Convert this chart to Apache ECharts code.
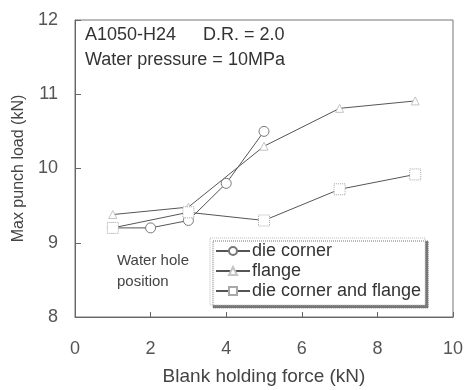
<!DOCTYPE html>
<html>
<head>
<meta charset="utf-8">
<script src="https://cdn.jsdelivr.net/npm/echarts@6/dist/echarts.min.js"></script>
<style>
  html, body { margin: 0; padding: 0; background: #fff; }
  #chart { width: 469px; height: 390px; }
</style>
</head>
<body>
<div id="chart"></div>
<script>
// Blank holding force (kN) and measured maximum punch load (kN)
const dieCornerX = [1, 2, 3, 4, 5];
const dieCornerY = [9.2, 9.2, 9.3, 9.8, 10.5];
const flangeX = [1, 3, 5, 7, 9];
const flangeY = [9.38, 9.48, 10.3, 10.81, 10.91];
const bothX = [1, 3, 5, 7, 9];
const bothY = [9.2, 9.41, 9.3, 9.72, 9.92];
const xTicks = [0, 2, 4, 6, 8, 10];
const yTicks = [8, 9, 10, 11, 12];

const FONT = 'Liberation Sans';
const TEXT = '#444';
const pairs = (xs, ys) => xs.map((x, i) => [x, ys[i]]);

const chart = echarts.init(document.getElementById('chart'));
chart.setOption({
  animation: false,
  textStyle: { fontFamily: FONT },
  grid: {
    left: 75, right: 16, top: 20, bottom: 73,
    outerBoundsMode: 'none', containLabel: false,
    show: true, borderColor: '#777', borderWidth: 1, backgroundColor: 'transparent'
  },
  xAxis: {
    type: 'value', min: xTicks[0], max: xTicks[xTicks.length - 1], interval: 2,
    name: 'Blank holding force (kN)', nameLocation: 'middle', nameGap: 50,
    nameTextStyle: { fontSize: 19, color: TEXT, fontFamily: FONT },
    axisLine: { lineStyle: { color: '#666' } },
    axisTick: { inside: true, length: 5, lineStyle: { color: '#666' } },
    axisLabel: { fontSize: 18, color: '#555', margin: 23, fontFamily: FONT },
    splitLine: { show: false }
  },
  yAxis: {
    type: 'value', min: yTicks[0], max: yTicks[yTicks.length - 1], interval: 1,
    name: 'Max punch load (kN)', nameLocation: 'middle', nameGap: 47,
    nameTextStyle: { fontSize: 16, color: TEXT, fontFamily: FONT },
    axisLine: { lineStyle: { color: '#666' } },
    axisTick: { inside: true, length: 6, lineStyle: { color: '#666' } },
    axisLabel: { fontSize: 18, color: '#555', margin: 17, fontFamily: FONT },
    splitLine: { show: false }
  },
  legend: {
    orient: 'vertical', left: 210, top: 238,
    itemWidth: 34, itemHeight: 10, itemGap: 2,
    padding: [4, 4, 5, 5],
    backgroundColor: '#fff',
    borderColor: '#bbb', borderWidth: 1, borderType: 'dotted',
    shadowColor: '#777', shadowBlur: 0, shadowOffsetX: 3, shadowOffsetY: 3,
    textStyle: { fontSize: 18, lineHeight: 18, color: '#333', fontFamily: FONT, padding: [0, 0, 0, -3] },
    data: ['die corner', 'flange', 'die corner and flange']
  },
  graphic: [
    { type: 'text', left: 85, top: 26, style: { text: 'A1050-H24', font: '18px "Liberation Sans"', fill: '#333' } },
    { type: 'text', left: 203, top: 26, style: { text: 'D.R. = 2.0', font: '18px "Liberation Sans"', fill: '#333' } },
    { type: 'text', left: 85, top: 51, style: { text: 'Water pressure = 10MPa', font: '18px "Liberation Sans"', fill: '#333' } },
    { type: 'text', left: 117, top: 250, style: { text: 'Water hole\nposition', font: '15px "Liberation Sans"', lineHeight: 21, fill: '#444' } }
  ],
  series: [
    {
      name: 'die corner', type: 'line', data: pairs(dieCornerX, dieCornerY),
      symbol: 'circle', symbolSize: 10, showAllSymbol: true,
      lineStyle: { color: '#555', width: 1 },
      itemStyle: { color: '#fff', borderColor: '#777', borderWidth: 1 }
    },
    {
      name: 'flange', type: 'line', data: pairs(flangeX, flangeY),
      symbol: 'triangle', symbolSize: 8,
      lineStyle: { color: '#555', width: 1 },
      itemStyle: { color: '#fff', borderColor: '#c4c4c4', borderWidth: 1 }
    },
    {
      name: 'die corner and flange', type: 'line', data: pairs(bothX, bothY),
      symbol: 'rect', symbolSize: 11,
      lineStyle: { color: '#555', width: 1 },
      itemStyle: { color: '#fff', borderColor: '#a8a8a8', borderWidth: 1, borderType: 'dotted' }
    }
  ]
});
</script>
</body>
</html>
